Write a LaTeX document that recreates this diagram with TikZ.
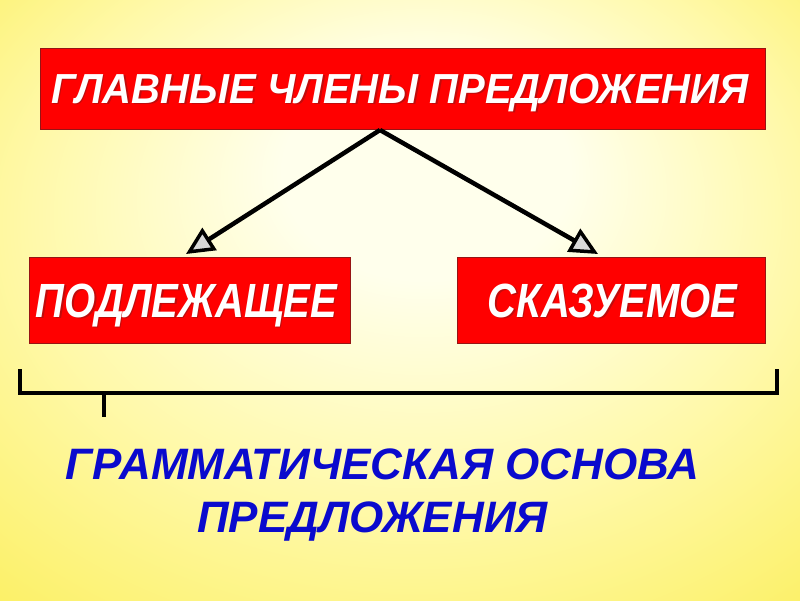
\documentclass[tikz,border=0pt]{standalone}
\usepackage{fontspec}
\setmainfont{Liberation Sans}
\usetikzlibrary{arrows.meta}
\definecolor{boxred}{RGB}{255,0,0}
\definecolor{boxedge}{RGB}{150,20,20}
\definecolor{txtblue}{RGB}{10,10,205}
\definecolor{bgin}{RGB}{255,255,236}
\definecolor{bgmid}{RGB}{255,249,170}
\definecolor{bgout}{RGB}{251,238,85}
\pgfdeclareradialshading{bgshade}{\pgfpoint{2bp}{13bp}}{color(0bp)=(bgin); color(9bp)=(bgin); color(24bp)=(bgmid); color(42bp)=(bgout); color(50bp)=(bgout)}
\tikzset{
  redbox/.style={draw=boxedge, line width=0.8pt, fill=boxred},
  whitetxt/.style={text=white, font=\fontsize{40}{44}\selectfont\bfseries\itshape, anchor=base, inner sep=0pt},
  shadowtxt/.style={text=boxedge, font=\fontsize{40}{44}\selectfont\bfseries\itshape, anchor=base, inner sep=0pt, opacity=0.6},
  bluetxt/.style={text=txtblue, font=\fontsize{44}{48}\selectfont\bfseries\itshape, anchor=base, inner sep=0pt},
  arr/.style={line width=4.5pt, -{Triangle[length=28pt,width=26pt,line width=3.5pt,fill=white!85!black]}},
  brk/.style={line width=4.5pt, line cap=butt, line join=miter}
}
\newcommand{\tallA}[1]{\scalebox{1}[1.05]{#1}}
\newcommand{\tallB}[1]{\scalebox{1}[1.2]{#1}}
\begin{document}
\begin{tikzpicture}[x=1pt,y=-1pt]
\useasboundingbox (0,0) rectangle (800,600);
\shade[shading=bgshade] (0,0) rectangle (800,600);
% boxes
\draw[redbox] (40,48) rectangle (765,129);
\draw[redbox] (29,257) rectangle (350,343);
\draw[redbox] (457,257) rectangle (765,343);
% labels
\node[shadowtxt] at (401.5,104.5) {\tallA{ГЛАВНЫЕ ЧЛЕНЫ ПРЕДЛОЖЕНИЯ}};
\node[whitetxt] (main) at (400,103) {\tallA{ГЛАВНЫЕ ЧЛЕНЫ ПРЕДЛОЖЕНИЯ}};
\node[shadowtxt] at (188,318.5) {\tallB{ПОДЛЕЖАЩЕЕ}};
\node[whitetxt] (subj) at (186.5,317) {\tallB{ПОДЛЕЖАЩЕЕ}};
\node[shadowtxt] at (614,318.5) {\tallB{СКАЗУЕМОЕ}};
\node[whitetxt] (pred) at (612.5,317) {\tallB{СКАЗУЕМОЕ}};
% arrows
\coordinate (src) at (380,130);
\coordinate (tipL) at (186,254);
\coordinate (tipR) at (598,254);
\draw[arr] (src) -- (tipL);
\draw[arr] (src) -- (tipR);
% bracket
\draw[brk] (20,369) -- (20,393) -- (777,393) -- (777,369);
\draw[brk] (104,393) -- (104,417);
% bottom text
\node[bluetxt] (gram1) at (382.5,479) {ГРАММАТИЧЕСКАЯ ОСНОВА};
\node[bluetxt] (gram2) at (372.5,532) {ПРЕДЛОЖЕНИЯ};
\end{tikzpicture}
\end{document}
